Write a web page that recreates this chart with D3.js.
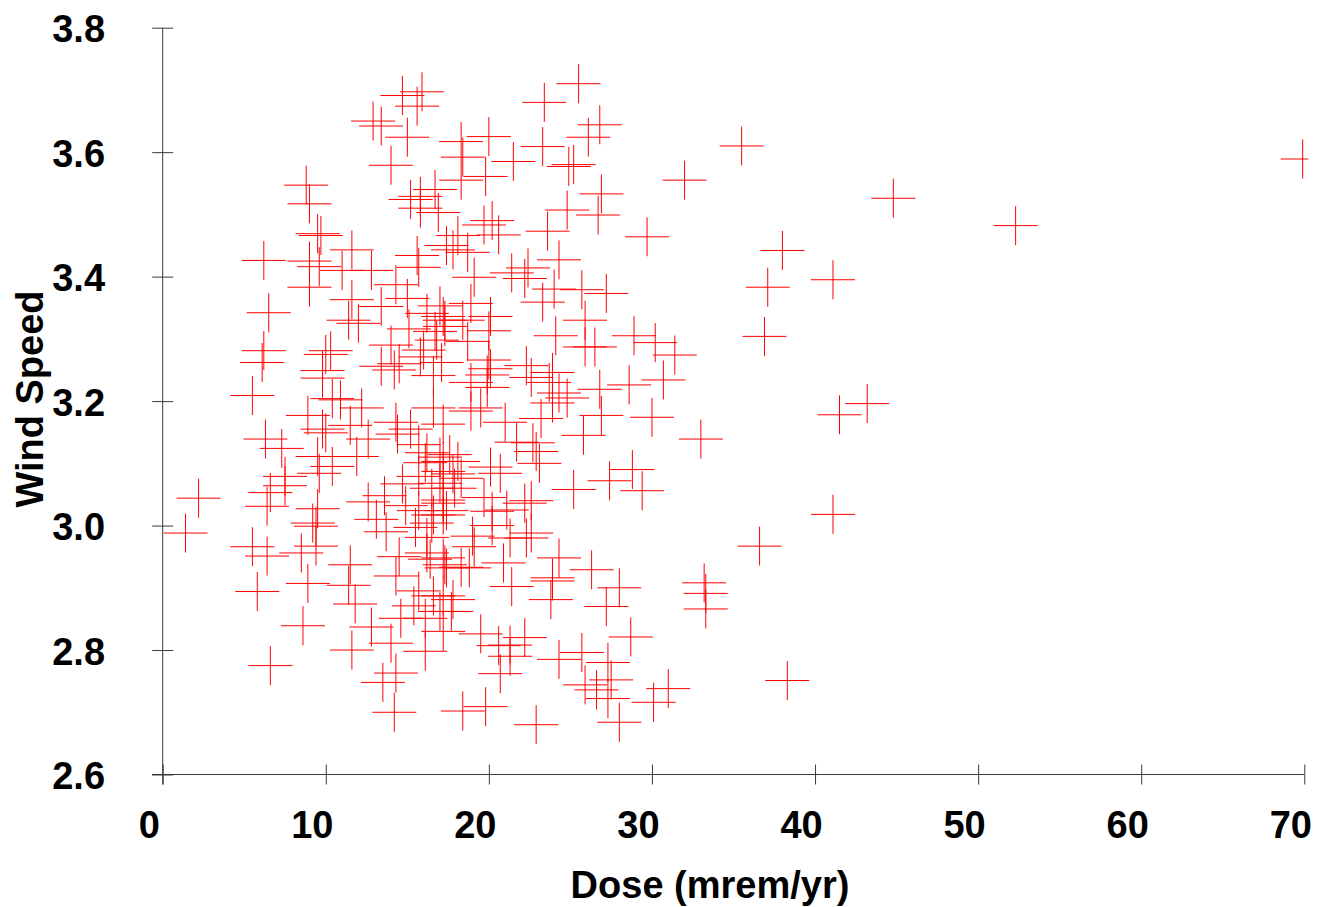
<!DOCTYPE html>
<html>
<head>
<meta charset="utf-8">
<script src="https://cdn.jsdelivr.net/npm/d3@7"></script>
<style>
  html, body { margin: 0; padding: 0; background: #ffffff; }
  svg { display: block; }
  text { font-family: "Liberation Sans", Arial, sans-serif; font-weight: bold; fill: #000; }
</style>
</head>
<body>
<svg id="chart" width="1317" height="907"></svg>
<script>
// ---- data ----
const xTicks = [0, 10, 20, 30, 40, 50, 60, 70];
const yTicks = [2.6, 2.8, 3.0, 3.2, 3.4, 3.6, 3.8];
const xTitle = "Dose (mrem/yr)";
const yTitle = "Wind Speed";

const dose = [
  15.9,14.7,15.6,12.9,13.4,15.0,14.0,8.8,9.0,9.5,9.7,6.2,9.0,11.6,11.0,12.8,9.6,15.6,15.7,15.2,15.8,16.7,15.8,16.9,17.4,
  9.0,14.3,15.0,11.6,11.4,12.0,13.4,6.5,6.2,6.1,5.5,10.3,10.0,9.8,9.8,10.4,10.9,12.2,8.9,9.8,10.0,11.5,12.6,11.9,6.3,7.3,9.5,10.4,9.6,7.5,6.6,7.5,6.4,2.2,9.5,12.6,13.6,14.7,14.9,14.3,14.4,15.2,16.6,14.0,14.5,13.4,14.2,15.1,16.0,16.6,16.2,17.0,17.2,17.3,16.7,16.8,15.8,15.7,16.2,16.1,17.0,17.2,17.2,17.0,15.7,16.5,17.2,16.6,15.7,
  1.4,5.5,6.4,5.8,8.5,9.4,9.2,9.4,8.9,8.6,6.6,11.5,11.4,11.8,12.8,14.0,11.6,14.3,13.5,14.2,13.7,13.1,14.5,14.3,15.7,15.5,16.2,16.5,16.2,16.4,17.3,17.2,15.4,14.6,16.1,16.1,17.2,16.6,17.0,17.4,
  25.5,23.4,26.8,26.1,20.0,18.3,21.5,23.3,25.2,24.9,18.4,19.8,18.3,32.0,26.9,24.8,26.7,23.6,29.7,24.3,19.7,20.2,20.6,18.1,17.8,18.7,19.1,21.4,22.4,22.2,
  23.3,24.0,25.7,27.2,25.9,24.1,26.5,25.9,28.9,30.2,31.4,28.6,30.7,26.8,30.0,33.0,26.9,25.8,28.8,27.4,29.4,25.2,22.3,22.6,23.9,24.3,24.8,23.9,23.7,23.2,21.0,21.7,22.7,22.9,23.1,20.1,20.7,19.7,21.1,22.2,22.6,20.2,18.9,20.1,18.4,20.0,18.7,20.0,20.1,19.9,18.9,19.9,19.5,18.9,17.2,17.1,17.3,17.6,18.1,17.8,18.3,17.9,17.2,17.4,
  24.3,26.3,23.9,23.9,23.8,28.0,27.2,28.7,21.4,20.9,19.5,20.6,21.3,22.2,21.3,20.7,24.3,25.7,27.3,27.5,25.9,26.6,27.3,28.0,30.1,31.0,18.4,19.8,22.9,33.2,33.3,33.3,20.2,19.0,21.3,22.3,22.6,19.1,18.3,18.8,17.2,17.8,17.7,17.2,
  35.5,69.9,44.8,52.3,38.0,37.1,41.1,36.9,43.2,41.5,41.1,36.6,38.3
];

const windSpeed = [
  3.697,3.691,3.674,3.650,3.642,3.624,3.579,3.547,3.517,3.469,3.466,3.426,3.425,3.443,3.410,3.410,3.416,3.434,3.415,3.524,3.529,3.540,3.510,3.503,3.450,
  3.383,3.387,3.365,3.363,3.330,3.325,3.352,3.342,3.281,3.262,3.209,3.281,3.275,3.249,3.237,3.204,3.202,3.189,3.177,3.155,3.149,3.161,3.139,3.111,3.139,3.124,3.111,3.095,3.084,3.079,3.053,3.064,3.031,3.044,3.027,3.038,3.048,3.067,3.032,3.166,3.147,3.155,3.189,3.290,3.260,3.256,3.250,3.316,3.282,3.241,3.341,3.353,3.336,3.320,3.312,3.298,3.271,3.130,3.117,3.101,3.110,3.103,3.087,3.068,3.079,3.060,3.041,3.017,3.024,
  2.988,2.966,2.951,2.894,2.956,2.967,3.004,2.999,2.907,2.839,2.775,2.937,2.904,2.874,2.837,2.811,2.800,2.763,2.748,2.700,2.990,3.010,2.950,2.919,2.895,2.997,2.981,3.004,2.956,2.946,2.937,3.017,2.871,2.851,2.851,2.798,2.830,2.887,2.862,2.932,
  3.710,3.680,3.644,3.624,3.625,3.617,3.585,3.609,3.580,3.577,3.592,3.561,3.555,3.555,3.533,3.507,3.499,3.473,3.464,3.427,3.483,3.490,3.467,3.466,3.443,3.439,3.399,3.406,3.414,3.397,
  3.359,3.380,3.379,3.373,3.330,3.305,3.287,3.287,3.305,3.294,3.274,3.226,3.234,3.219,3.174,3.139,3.177,3.145,3.090,3.072,3.056,3.058,3.257,3.238,3.246,3.213,3.205,3.197,3.230,3.172,3.166,3.134,3.133,3.119,3.100,3.094,3.084,3.045,3.025,3.036,3.040,3.023,3.357,3.336,3.330,3.313,3.296,3.266,3.252,3.242,3.230,3.222,3.189,3.184,3.163,3.262,3.330,3.114,3.103,3.083,3.076,3.060,3.036,3.024,
  2.948,2.929,2.916,2.911,2.881,2.900,2.870,2.821,2.902,2.940,2.826,2.807,2.808,2.820,2.790,2.762,2.785,2.796,2.780,2.752,2.744,2.736,2.722,2.684,2.716,2.738,2.702,2.709,2.680,2.908,2.891,2.866,3.000,2.983,2.980,2.980,2.988,2.966,2.933,2.932,2.948,2.881,2.862,2.887,
  3.610,3.589,3.526,3.482,3.442,3.383,3.395,3.304,3.196,3.178,3.018,2.967,2.751
];

// ---- layout ----
const svg = d3.select("#chart");
const x = d3.scaleLinear().domain([0, 70]).range([162.7, 1304.3]);
const y = d3.scaleLinear().domain([2.6, 3.8]).range([774.5, 27.7]);
const points = dose.map((d, i) => ({ dose: d, wind: windSpeed[i] }));

const axisColor = "#3a3a3a";
const fontSize = 38;

// clip for markers (plot frame)
svg.append("defs").append("clipPath").attr("id", "plotClip")
  .append("rect")
  .attr("x", 0).attr("y", 0)
  .attr("width", x(70) + 4).attr("height", 907);

// X axis
const gx = svg.append("g")
  .attr("transform", `translate(0,${y(2.6)})`)
  .call(d3.axisBottom(x).tickValues(xTicks).tickSize(10).tickSizeOuter(0).tickFormat(d3.format("d")));
gx.select(".domain").remove();
gx.append("line")
  .attr("x1", 152).attr("x2", x(70))
  .attr("stroke", axisColor).attr("stroke-width", 1);
gx.selectAll(".tick line")
  .attr("y1", -10).attr("y2", 10)
  .attr("stroke", axisColor).attr("stroke-width", 1);
gx.selectAll(".tick text")
  .attr("y", 0).attr("dy", null)
  .attr("transform", "translate(-14,63.5)")
  .attr("font-size", fontSize)
  .attr("font-family", "'Liberation Sans', Arial, sans-serif")
  .attr("font-weight", "bold")
  .attr("fill", "#000");

// Y axis
const gy = svg.append("g")
  .attr("transform", `translate(${x(0)},0)`)
  .call(d3.axisLeft(y).tickValues(yTicks).tickSize(10).tickSizeOuter(0).tickFormat(d3.format(".1f")));
gy.select(".domain").remove();
gy.append("line")
  .attr("y1", y(3.8)).attr("y2", y(2.6) + 10)
  .attr("stroke", axisColor).attr("stroke-width", 1);
gy.selectAll(".tick line")
  .attr("x1", -10.5).attr("x2", 10.5)
  .attr("stroke", axisColor).attr("stroke-width", 1);
gy.selectAll(".tick text")
  .attr("x", 105 - x(0)).attr("dy", null).attr("y", 14)
  .attr("text-anchor", "end")
  .attr("font-size", fontSize)
  .attr("font-family", "'Liberation Sans', Arial, sans-serif")
  .attr("font-weight", "bold")
  .attr("fill", "#000");

// Axis titles
svg.append("text")
  .attr("x", 710).attr("y", 898)
  .attr("text-anchor", "middle")
  .attr("font-size", fontSize)
  .text(xTitle);

svg.append("text")
  .attr("transform", "translate(43,399) rotate(-90)")
  .attr("text-anchor", "middle")
  .attr("font-size", fontSize)
  .text(yTitle);

// Cross markers
const hw = 22, hh = 19.5;
const marks = svg.append("g")
  .attr("clip-path", "url(#plotClip)")
  .attr("stroke", "#ff0000")
  .attr("stroke-width", 1)
  .attr("fill", "none");

const cross = marks.selectAll("g.cross").data(points).join("g").attr("class", "cross");
cross.append("line")
  .attr("x1", d => x(d.dose) - hw).attr("x2", d => x(d.dose) + hw)
  .attr("y1", d => y(d.wind)).attr("y2", d => y(d.wind));
cross.append("line")
  .attr("x1", d => x(d.dose)).attr("x2", d => x(d.dose))
  .attr("y1", d => y(d.wind) - hh).attr("y2", d => y(d.wind) + hh);
</script>
</body>
</html>
